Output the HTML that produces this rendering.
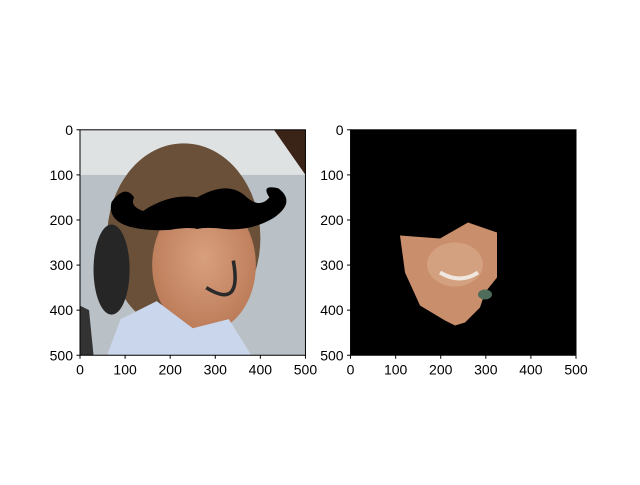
<!DOCTYPE html>
<html><head><meta charset="utf-8"><style>
body{margin:0;background:#fff}
svg text{font-family:"Liberation Sans","DejaVu Sans",sans-serif;font-size:14px;fill:#000}
</style></head><body>
<svg width="640" height="480" viewBox="0 0 640 480">
<defs>
<clipPath id="c1"><rect x="0" y="0" width="500" height="500"/></clipPath>
<radialGradient id="skin" cx="0.5" cy="0.45" r="0.6"><stop offset="0" stop-color="#d9a07e"/><stop offset="1" stop-color="#b97856"/></radialGradient>
</defs>
<g transform="translate(80,129.8) scale(0.45091)">
<g clip-path="url(#c1)">
<rect width="500" height="500" fill="#b9c1c6"/>
<rect width="500" height="100" fill="#dfe2e2"/>
<polygon points="430,0 500,0 500,100" fill="#3a2418"/>
<ellipse cx="230" cy="240" rx="170" ry="210" fill="#6a5038"/>
<ellipse cx="70" cy="310" rx="40" ry="100" fill="#262626"/>
<ellipse cx="275" cy="300" rx="115" ry="150" fill="url(#skin)"/>
<path d="M340 290 Q360 400 280 350" stroke="#2a2a2a" stroke-width="8" fill="none"/>
<path d="M60 500 L90 420 L170 380 L250 440 L330 420 L380 500 Z" fill="#c9d6ec"/>
<path d="M0 390 L20 400 L30 500 L0 500Z" fill="#333"/>
<path d="M70 160 Q100 120 120 150 Q110 170 140 180 Q200 140 260 150 Q330 110 370 150 Q400 175 420 150 Q400 120 440 130 Q480 160 430 195 Q380 225 320 220 Q280 215 260 220 Q240 215 200 222 Q150 225 110 215 Q60 200 70 160Z" fill="#000"/>
</g></g>
<g transform="translate(0,2.5)">
<rect x="350.55" y="127.3" width="225.45" height="225.45" fill="#000"/>
<polygon points="400,233 440,236 468,220 497,230 497,275 485,290 480,305 465,320 455,323 445,318 420,303 405,270" fill="#c98e6c"/>
<ellipse cx="455" cy="262" rx="28" ry="22" fill="#d3a080"/>
<path d="M440 270 Q460 282 478 270" stroke="#f0e8e0" stroke-width="4" fill="none"/>
<ellipse cx="485" cy="292" rx="7" ry="5" fill="#4f6b5a"/>
</g>
<g fill="none" stroke="#000" stroke-width="1">
<rect x="80" y="129.8" width="225.45" height="225.45"/>
<rect x="350.55" y="129.8" width="225.45" height="225.45"/>
</g>
<g id="ticks"></g>
</svg>
<script>
const tickValues=[0,100,200,300,400,500];
const axesLeft=[80,350.55];
const top0=129.8, size=225.45;
const g=document.getElementById('ticks');
const ns='http://www.w3.org/2000/svg';
function sc(v){return v/500*size;}
axesLeft.forEach(function(x0){
 tickValues.forEach(function(v){
  const x=x0+sc(v), y=top0+sc(v);
  let l=document.createElementNS(ns,'line');
  l.setAttribute('x1',x);l.setAttribute('x2',x);l.setAttribute('y1',top0+size);l.setAttribute('y2',top0+size+3.5);l.setAttribute('stroke','#000');
  
  
  g.appendChild(l);
  let t=document.createElementNS(ns,'text');
  t.setAttribute('x',x);t.setAttribute('y',top0+size+19);t.setAttribute('text-anchor','middle');t.textContent=v;
  
  
  g.appendChild(t);
  let l2=document.createElementNS(ns,'line');
  l2.setAttribute('x1',x0-3.5);l2.setAttribute('x2',x0);l2.setAttribute('y1',y);l2.setAttribute('y2',y);l2.setAttribute('stroke','#000');
  
  
  g.appendChild(l2);
  let t2=document.createElementNS(ns,'text');
  t2.setAttribute('x',x0-7);t2.setAttribute('y',y+5);t2.setAttribute('text-anchor','end');t2.textContent=v;
  
  
  g.appendChild(t2);
 });
});
</script>
</body></html>
